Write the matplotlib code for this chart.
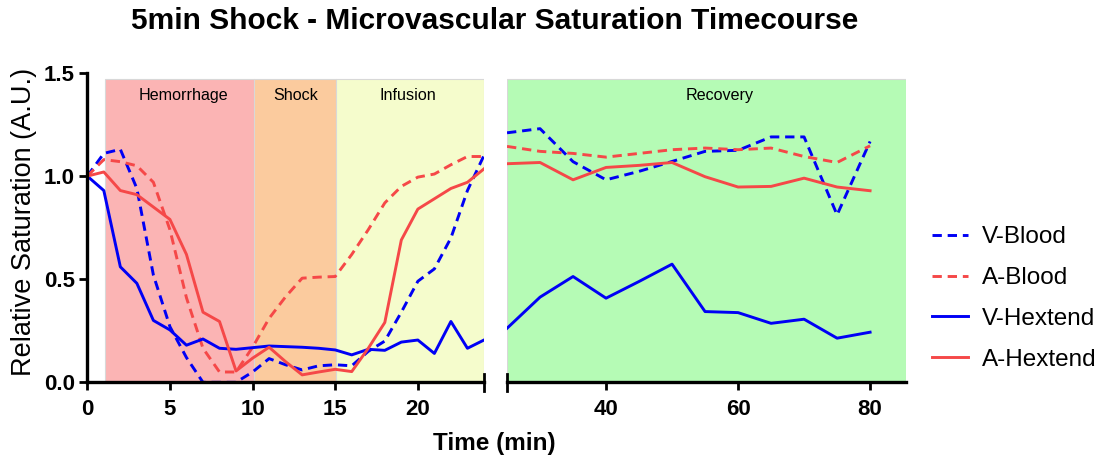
import numpy as np
import matplotlib.pyplot as plt
from matplotlib.lines import Line2D

plt.rcParams['font.family'] = ['Liberation Sans', 'DejaVu Sans']

# early phase, sampled every minute
t_early = np.arange(0, 25)
v_blood_early = [1.00, 1.11, 1.13, 0.94, 0.52, 0.27, 0.12, 0.0, 0.0, 0.0, 0.05, 0.115,
                 0.085, 0.06, 0.08, 0.085, 0.08, 0.15, 0.20, 0.34, 0.49, 0.55, 0.70, 0.93, 1.10]
a_blood_early = [1.00, 1.08, 1.07, 1.05, 0.97, 0.74, 0.41, 0.165, 0.05, 0.05, 0.17, 0.31,
                 0.415, 0.505, 0.51, 0.513, 0.62, 0.74, 0.87, 0.95, 0.995, 1.01, 1.055, 1.095, 1.095]
v_hex_early = [1.00, 0.93, 0.56, 0.48, 0.30, 0.254, 0.18, 0.21, 0.165, 0.16, 0.168, 0.176,
               0.173, 0.17, 0.165, 0.157, 0.133, 0.16, 0.155, 0.195, 0.205, 0.14, 0.295, 0.165, 0.205]
a_hex_early = [1.00, 1.02, 0.93, 0.91, 0.85, 0.79, 0.62, 0.34, 0.295, 0.055, 0.117, 0.17,
               0.10, 0.036, 0.05, 0.063, 0.052, 0.165, 0.29, 0.69, 0.84, 0.89, 0.94, 0.97, 1.035]

# recovery phase, every 5 minutes
t_late = np.arange(25, 81, 5)
v_blood_late = [1.21, 1.23, 1.07, 0.982, 1.023, 1.071, 1.12, 1.125, 1.19, 1.19, 0.812, 1.168]
a_blood_late = [1.144, 1.12, 1.11, 1.092, 1.11, 1.128, 1.136, 1.128, 1.136, 1.095, 1.066, 1.147]
v_hex_late = [0.262, 0.413, 0.513, 0.408, 0.489, 0.573, 0.343, 0.338, 0.286, 0.306, 0.214, 0.243]
a_hex_late = [1.06, 1.066, 0.982, 1.042, 1.052, 1.066, 0.997, 0.947, 0.95, 0.99, 0.947, 0.929]

phases = ['Hemorrhage', 'Shock', 'Infusion', 'Recovery']
phase_start = [1.1, 10.1, 15.05, 25]
phase_end = [10.1, 15.05, 24, 85.5]
phase_label_x = [5.8, 12.6, 19.4, 57.2]
phase_colors = ['#fbb4b4', '#fbcb9e', '#f5fccc', '#b5fbb5']

blue = '#0000f5'
red = '#f54848'
dash = (0, (3.2, 2.0))

fig = plt.figure(figsize=(11.09, 4.62), dpi=100)
ax1 = fig.add_axes([0.0787, 0.1725, 0.3577, 0.6695])
ax2 = fig.add_axes([0.4572, 0.1725, 0.3601, 0.6695])

for ax, lo, hi in [(ax1, 0, 24), (ax2, 25, 85.5)]:
    for name, s, e, lx, c in zip(phases, phase_start, phase_end, phase_label_x, phase_colors):
        if s >= lo and e <= hi:
            ax.axvspan(s, e, ymin=0, ymax=1.472 / 1.5, facecolor=c, edgecolor='#d8d8d8',
                       lw=0.8, zorder=0)
            ax.text(lx, 1.39, name, ha='center', va='center', fontsize=11.6)
    ax.set_xlim(lo, hi)
    ax.set_ylim(0, 1.5)
    for sp in ['top', 'right']:
        ax.spines[sp].set_visible(False)
    ax.spines['bottom'].set_linewidth(2.4)
    ax.spines['left'].set_linewidth(2.4)
    ax.tick_params(width=2.0, length=6, pad=3, direction='out')
    ax.tick_params(axis='x', pad=6)

ax1.plot(t_early, v_blood_early, color=blue, lw=2.1, ls=dash)
ax1.plot(t_early, a_blood_early, color=red, lw=2.1, ls=dash)
ax1.plot(t_early, v_hex_early, color=blue, lw=2.1)
ax1.plot(t_early, a_hex_early, color=red, lw=2.1)

ax2.plot(t_late, v_blood_late, color=blue, lw=2.1, ls=dash)
ax2.plot(t_late, a_blood_late, color=red, lw=2.1, ls=dash)
ax2.plot(t_late, v_hex_late, color=blue, lw=2.1)
ax2.plot(t_late, a_hex_late, color=red, lw=2.1)

ax1.set_xticks([0, 5, 10, 15, 20])
ax1.set_yticks([0, 0.5, 1.0, 1.5])
ax1.set_yticklabels(['0.0', '0.5', '1.0', '1.5'], fontweight='bold', fontsize=16)
ax1.set_xticklabels(['0', '5', '10', '15', '20'], fontweight='bold', fontsize=16)
ax2.set_xticks([40, 60, 80])
ax2.set_xticklabels(['40', '60', '80'], fontweight='bold', fontsize=16)
ax2.spines['left'].set_visible(False)
ax2.set_yticks([])

# break marks at the split of the time axis
ax1.plot([24, 24], [-0.04, 0.04], color='black', lw=2.0, clip_on=False, zorder=5)
ax2.plot([25, 25], [-0.04, 0.04], color='black', lw=2.0, clip_on=False, zorder=5)

fig.text(0.446, 0.955, '5min Shock - Microvascular Saturation Timecourse',
         ha='center', va='center', fontsize=21.5, fontweight='bold')
fig.text(0.446, 0.041, 'Time (min)', ha='center', va='center', fontsize=17.5, fontweight='bold')
fig.text(0.022, 0.52, 'Relative Saturation (A.U.)', ha='center', va='center',
         rotation=90, fontsize=19.5)

handles = [Line2D([], [], color=blue, lw=2.1, ls=dash),
           Line2D([], [], color=red, lw=2.1, ls=dash),
           Line2D([], [], color=blue, lw=2.1),
           Line2D([], [], color=red, lw=2.1)]
fig.legend(handles, ['V-Blood', 'A-Blood', 'V-Hextend', 'A-Hextend'],
           loc='center left', bbox_to_anchor=(0.821, 0.354), frameon=False,
           fontsize=17.5, handlelength=1.45, labelspacing=0.77, handletextpad=0.58)

fig.savefig('out.png', dpi=100)
